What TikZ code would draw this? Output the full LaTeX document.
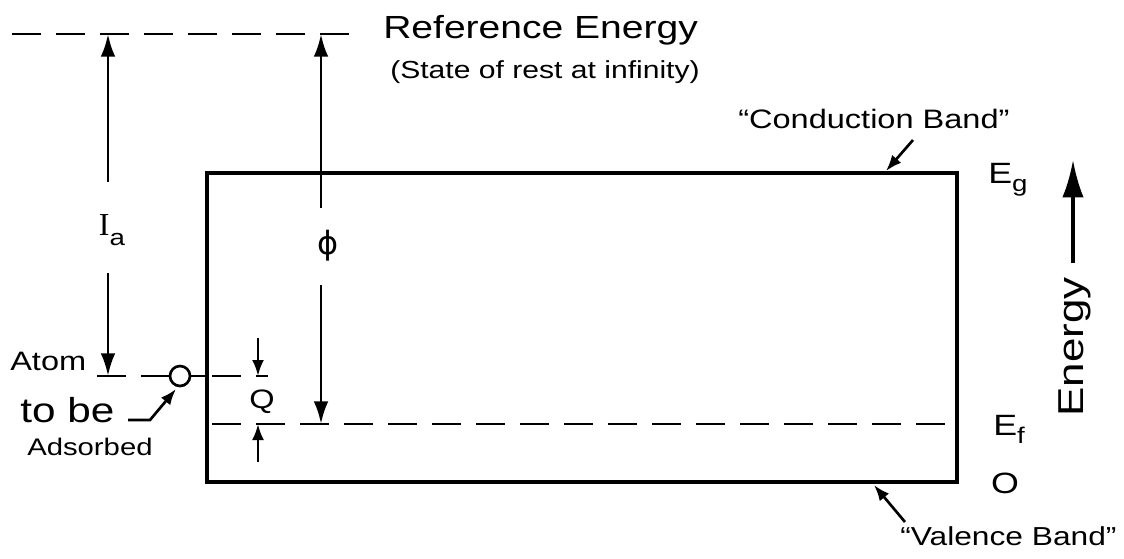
\documentclass[tikz,border=0pt]{standalone}
\usepackage{fontspec}
\setmainfont{Liberation Sans}[FakeStretch=1.22]
\newfontfamily\barfont{Liberation Serif}
\newfontfamily\greekfont{DejaVu Sans}
\usetikzlibrary{arrows.meta}

\newcommand{\fsz}[1]{\fontsize{#1}{#1}\selectfont}
\newcommand{\lowsub}[1]{\raisebox{-0.3em}{\fsz{17}#1}}

\tikzset{
  band/.style={line width=3pt, line cap=round},
  level/.style={line width=2pt, dash pattern=on 22pt off 11pt},
  dim/.style={line width=2.2pt, -{Latex[length=17pt,width=11pt]}},
  pointer/.style={line width=2pt, -{Latex[length=12pt,width=9pt]}},
  lbl/.style={inner sep=0pt}
}

\begin{document}
\begin{tikzpicture}[x=0.75pt,y=-0.75pt]
\useasboundingbox (0,0) rectangle (1124,558);

% reference level
\coordinate (ref west) at (12,34);
\coordinate (ref east) at (360,34);
\draw[level] (ref west) -- (ref east);
\node[lbl,anchor=base west,font=\fsz{24}] (ref) at (383,38) {Reference Energy};
\node[lbl,anchor=base west,font=\fsz{18.5}] (rest) at (390,78) {(State of rest at infinity)};

% the band box
\coordinate (cb west) at (207,173);
\coordinate (cb east) at (957,173);
\coordinate (vb west) at (207,482);
\coordinate (vb east) at (957,482);
\draw[band] (cb west) -- (cb east) -- (vb east) -- (vb west) -- cycle;

% atom and its level
\node[circle,draw,line width=2pt,minimum size=15pt,inner sep=0pt] (atom) at (180,376) {};
\draw[level] (97,376) -- (atom.west);
\draw[line width=2pt] (atom.east) -- (207,376);
\draw[level] (212,376) -- (268,376);

% fermi level
\draw[level] (212,424) -- (950,424);

% I_a
\node[lbl,font=\fsz{24}] (Ia) at (112,230) {{\barfont I}\lowsub{a}};
\draw[dim] (108,182) -- (108,34);
\draw[dim] (108,273) -- (108,376);

% phi
\node[lbl,font=\fsz{24}\greekfont] (phi) at (328,246) {ϕ};
\draw[dim] (321,208) -- (321,34);
\draw[dim] (321,285) -- (321,424);

% Q
\node[lbl,font=\fsz{20}] (Q) at (262,402) {Q};
\draw[pointer] (258,338) -- (258,376);
\draw[pointer] (258,462) -- (258,424);

% atom labels
\node[lbl,anchor=base west,font=\fsz{20}] (atomtxt) at (10,370) {Atom};
\node[lbl,anchor=base west,font=\fsz{26}] (tobe) at (20,422) {to be};
\node[lbl,anchor=base west,font=\fsz{18}] (ads) at (27,455) {Adsorbed};
\draw[pointer] (128,420) -- (150,420) -- (176,389);

% band labels
\node[lbl,anchor=base west,font=\fsz{20}] (cbtxt) at (738,128) {``Conduction Band''};
\draw[pointer] (913,140) -- (886,171);
\node[lbl,anchor=base west,font=\fsz{19.5}] (vbtxt) at (900,545) {``Valence Band''};
\draw[pointer] (905,522) -- (874,485);

% energy scale
\node[lbl,anchor=base west,font=\fsz{22}] (Eg) at (988,183) {E\lowsub{g}};
\node[lbl,anchor=base west,font=\fsz{22}] (Ef) at (993,435) {E\lowsub{f}};
\node[lbl,font=\fsz{22}] (zero) at (1005,483) {O};
\node[lbl,rotate=90,font=\fsz{27}] (energy) at (1075,347) {Energy};
\draw[line width=2.5pt,-{Latex[length=28pt,width=16pt]}] (1073,263) -- (1073,160);
\end{tikzpicture}
\end{document}
